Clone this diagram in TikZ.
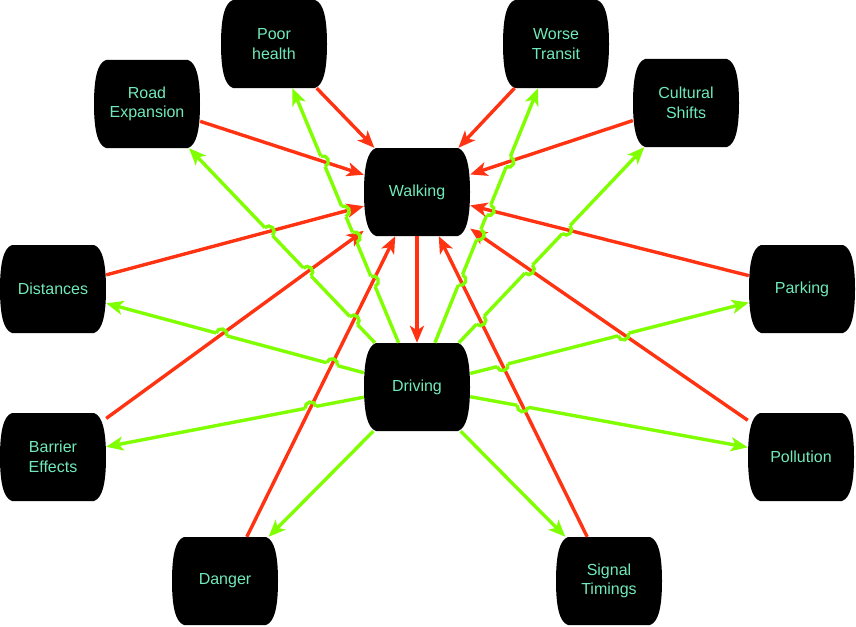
\documentclass[tikz,border=0pt]{standalone}
\usepackage{fontspec}
\setmainfont{Liberation Sans}
\usetikzlibrary{arrows.meta,calc}
\definecolor{mint}{RGB}{112,234,186}
\definecolor{redl}{RGB}{255,51,17}
\definecolor{greenl}{RGB}{128,255,0}
\tikzset{
  barrel/.style={minimum width=106pt, minimum height=88pt, inner sep=0pt,
    text=mint, align=center, font=\fontsize{16pt}{19.5pt}\selectfont,
    path picture={
      \fill[black]
        ([xshift=12pt]path picture bounding box.north west) --
        ([xshift=-12pt]path picture bounding box.north east)
        .. controls ([xshift=-3pt,yshift=-3pt]path picture bounding box.north east)
        and ([yshift=-20pt]path picture bounding box.north east) ..
        (path picture bounding box.east)
        .. controls ([yshift=20pt]path picture bounding box.south east)
        and ([xshift=-3pt,yshift=3pt]path picture bounding box.south east) ..
        ([xshift=-12pt]path picture bounding box.south east) --
        ([xshift=12pt]path picture bounding box.south west)
        .. controls ([xshift=3pt,yshift=3pt]path picture bounding box.south west)
        and ([yshift=20pt]path picture bounding box.south west) ..
        (path picture bounding box.west)
        .. controls ([yshift=-20pt]path picture bounding box.north west)
        and ([xshift=3pt,yshift=-3pt]path picture bounding box.north west) ..
        cycle;
    }},
  gline/.style={draw=greenl, line width=3.4pt, -{Stealth[length=17pt,width=14pt,inset=4.5pt]}},
  rline/.style={draw=redl, line width=3.4pt, -{Stealth[length=17pt,width=14pt,inset=4.5pt]}},
  jumperase/.style={draw=white, line width=7pt},
  jumparc/.style={draw=greenl, line width=3.4pt}
}
\newcommand\mknode[4]{%
  \expandafter\xdef\csname X#1\endcsname{#2}%
  \expandafter\xdef\csname Y#1\endcsname{#3}%
  \node[barrel] (#1) at (#2,#3) {#4};}
\newcommand\nx[1]{\csname X#1\endcsname}
\newcommand\ny[1]{\csname Y#1\endcsname}
\newcommand\outside[3]{(abs(#2-\nx{#1})>53 || abs(#3-\ny{#1})>44)}
\let\dojump\relax
\begin{document}
\begin{tikzpicture}[x=1pt,y=-1pt]
\useasboundingbox (0,0) rectangle (856,626);
\mknode{walk}{417}{192}{Walking}
\mknode{drv}{417}{387}{Driving}
\mknode{ph}{274}{44}{Poor\\health}
\mknode{wt}{556}{44}{Worse\\Transit}
\mknode{re}{147}{104}{Road\\Expansion}
\mknode{cs}{686}{103}{Cultural\\Shifts}
\mknode{di}{53}{289}{Distances}
\mknode{pa}{802}{289}{Parking}
\mknode{be}{53}{457}{Barrier\\Effects}
\mknode{po}{801}{457}{Pollution}
\mknode{da}{225}{581}{Danger}
\mknode{st}{609}{581}{Signal\\Timings}
% green lines
\foreach \g in {ph,wt,re,cs,di,pa,be,po,da,st}
  \draw[gline] (drv) -- (\g);
% compute jumps (green crossing red)
\gdef\jumplist{}
\foreach \g in {ph,wt,re,cs,di,pa,be,po,da,st}{
  \foreach \qa/\qb in {ph/walk,wt/walk,re/walk,cs/walk,di/walk,pa/walk,be/walk,po/walk,da/walk,st/walk,walk/drv}{
    \edef\jd{\fpeval{(\nx{\g}-\nx{drv})*(\ny{\qb}-\ny{\qa}) - (\ny{\g}-\ny{drv})*(\nx{\qb}-\nx{\qa})}}
    \edef\jt{\fpeval{((\nx{\qa}-\nx{drv})*(\ny{\qb}-\ny{\qa}) - (\ny{\qa}-\ny{drv})*(\nx{\qb}-\nx{\qa}))/\jd}}
    \edef\ju{\fpeval{((\nx{\qa}-\nx{drv})*(\ny{\g}-\ny{drv}) - (\ny{\qa}-\ny{drv})*(\nx{\g}-\nx{drv}))/\jd}}
    \edef\jpx{\fpeval{\nx{drv}+\jt*(\nx{\g}-\nx{drv})}}
    \edef\jpy{\fpeval{\ny{drv}+\jt*(\ny{\g}-\ny{drv})}}
    \edef\jang{\fpeval{atand(\ny{drv}-\ny{\g}, \nx{\g}-\nx{drv})}}
    \edef\jok{\fpeval{(\jt>0 && \jt<1 && \ju>0 && \ju<1
       && \outside{drv}{\jpx}{\jpy} && \outside{\g}{\jpx}{\jpy}
       && \outside{\qa}{\jpx}{\jpy} && \outside{\qb}{\jpx}{\jpy}) ? 1 : 0}}
    \ifnum\jok=1
      \xdef\jumplist{\jumplist\noexpand\dojump{\jpx}{\jpy}{\jang}}
    \fi
  }}
% erase gaps
\def\dojump#1#2#3{\draw[jumperase] ([shift={(#3:5.5pt)}]#1,#2) -- ([shift={(#3+180:5.5pt)}]#1,#2);}
\jumplist
% red lines
\foreach \q in {ph,wt,re,cs,di,pa,be,po,da,st}
  \draw[rline] (\q) -- (walk);
\draw[rline] (walk) -- (drv);
% jump arcs
\def\dojump#1#2#3{\draw[jumparc] ([shift={(#3:5.5pt)}]#1,#2) arc[start angle=#3, end angle=#3-180, radius=5.5pt];}
\jumplist
\end{tikzpicture}
\end{document}
